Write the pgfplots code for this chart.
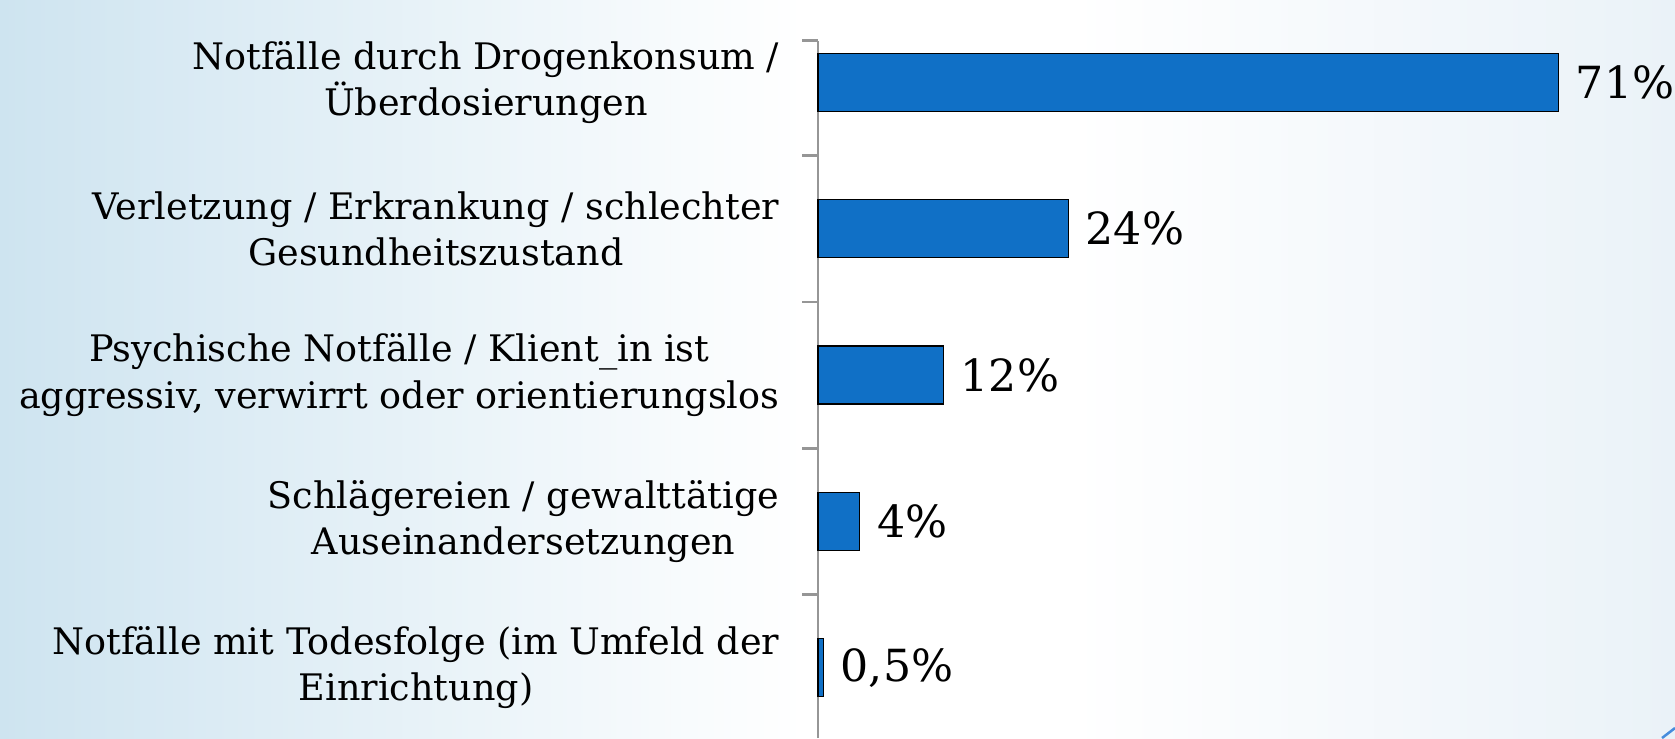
\documentclass[border=0pt]{standalone}
\usepackage{fontspec}
\setmainfont{DejaVu Serif}
\usepackage{pgfplots}
\pgfplotsset{compat=1.18}
\definecolor{barblue}{RGB}{16,112,198}
\definecolor{axgray}{RGB}{150,150,150}
\definecolor{bgleft}{RGB}{206,228,240}
\definecolor{bgright}{RGB}{234,242,248}
\definecolor{deco}{RGB}{70,140,220}
\pgfdeclarehorizontalshading{bgshade}{100bp}{color(0bp)=(bgleft); color(25bp)=(bgleft); color(49bp)=(white); color(57bp)=(white); color(75bp)=(bgright); color(100bp)=(bgright)}

\begin{document}
\begin{tikzpicture}[x=1cm,y=1cm]
  \shade[shading=bgshade] (0,0) rectangle (16.75,7.38);
  \useasboundingbox (0,0) rectangle (16.75,7.38);
  \begin{axis}[at={(8.18cm,0cm)}, anchor=south west, scale only axis,
      width=8.57cm, height=6.974cm, xbar, bar width=0.58cm, bar shift=0pt,
      xmin=0, xmax=82.2, ymin=-0.48, ymax=4.285, clip=false,
      axis y line*=left, axis x line=none, xtick=\empty,
      ytick={0,1,2,3,4},
      yticklabels={{Notfälle mit Todesfolge (im Umfeld der\\Einrichtung)},
        {Schlägereien / gewalttätige\\Auseinandersetzungen},
        {Psychische Notfälle / Klient\_in ist\\aggressiv, verwirrt oder orientierungslos},
        {Verletzung / Erkrankung / schlechter\\Gesundheitszustand},
        {Notfälle durch Drogenkonsum /\\Überdosierungen}},
      yticklabel style={align=center, font=\fontsize{10.4}{13.2}\selectfont, inner sep=0pt, xshift=-0.38cm},
      minor ytick={0.5,1.5,2.5,3.5,4.285},
      major tick length=0pt, minor tick length=0.16cm, tick align=outside,
      tick style={draw=axgray, line width=0.27mm},
      y axis line style={draw=axgray, line width=0.27mm},
      nodes near coords, point meta=explicit symbolic,
      every node near coord/.append style={font=\fontsize{12.6}{15}\selectfont, anchor=west, inner sep=0pt, xshift=0.17cm}]
    \addplot[fill=barblue, draw=black, line width=0.12mm] coordinates
      {(71,4) [71\%] (24,3) [24\%] (12,2) [12\%] (4,1) [4\%] (0.5,0) [0,5\%]};
  \end{axis}
  \draw[deco, line width=0.25mm] (16.62,0) -- (16.75,0.10);
\end{tikzpicture}
\end{document}
